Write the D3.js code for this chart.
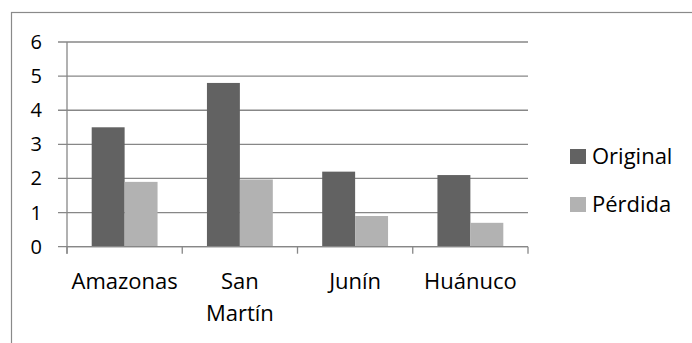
<!DOCTYPE html>
<html>
<head>
<meta charset="utf-8">
<script src="https://cdn.jsdelivr.net/npm/d3@7"></script>
<style>
  html, body { margin: 0; padding: 0; background: #fff; }
  svg { display: block; }
  text { font-family: "Open Sans", sans-serif; fill: #000; }
</style>
</head>
<body>
<svg id="chart" width="692" height="343"></svg>
<script>
// Regions and their values
const regions = ["Amazonas", "San Martín", "Junín", "Huánuco"];
const regionLines = [["Amazonas"], ["San", "Martín"], ["Junín"], ["Huánuco"]];
const seriesNames = ["Original", "Pérdida"];
const originalValues = [3.5, 4.8, 2.2, 2.1];
const perdidaValues = [1.9, 1.97, 0.9, 0.7];
const yTicks = [0, 1, 2, 3, 4, 5, 6];

const colors = { "Original": "#626262", "Pérdida": "#b2b2b2" };
const gridColor = "#878787";

const rows = regions.map((r, i) => ({
  region: r,
  lines: regionLines[i],
  values: [
    { key: "Original", value: originalValues[i] },
    { key: "Pérdida", value: perdidaValues[i] }
  ]
}));

const svg = d3.select("#chart");

// chart frame (continues past the right and bottom edges)
svg.append("rect")
  .attr("x", 11.5).attr("y", 12.5)
  .attr("width", 720).attr("height", 400)
  .attr("fill", "none").attr("stroke", "#8a8a8a").attr("stroke-width", 1.2);

const plot = { left: 67, right: 528, top: 42, bottom: 246.7 };

const x0 = d3.scaleBand().domain(regions).range([plot.left, plot.right]).padding(0);
const x1 = d3.scaleBand().domain(seriesNames).range([0, x0.bandwidth()])
  .paddingInner(0).paddingOuter(0.75);
const y = d3.scaleLinear().domain([0, 6]).range([plot.bottom, plot.top]);

// horizontal gridlines, extending left as tick marks
svg.append("g").selectAll("line").data(yTicks).join("line")
  .attr("x1", plot.left - 9).attr("x2", plot.right)
  .attr("y1", d => y(d)).attr("y2", d => y(d))
  .attr("stroke", gridColor).attr("stroke-width", 1.3);

// y-axis labels
svg.append("g").selectAll("text").data(yTicks).join("text")
  .attr("x", 42).attr("y", d => y(d) + 7)
  .attr("text-anchor", "end")
  .attr("font-size", 20)
  .text(d => d);

// bars
const groups = svg.append("g").selectAll("g").data(rows).join("g")
  .attr("transform", d => `translate(${x0(d.region)},0)`);
groups.selectAll("rect").data(d => d.values).join("rect")
  .attr("x", d => x1(d.key))
  .attr("width", x1.bandwidth())
  .attr("y", d => y(d.value))
  .attr("height", d => y(0) - y(d.value))
  .attr("fill", d => colors[d.key]);

// axes lines
svg.append("line")
  .attr("x1", plot.left).attr("x2", plot.left)
  .attr("y1", plot.top).attr("y2", plot.bottom + 7)
  .attr("stroke", gridColor).attr("stroke-width", 1.3);
svg.append("line")
  .attr("x1", plot.left).attr("x2", plot.right)
  .attr("y1", plot.bottom).attr("y2", plot.bottom)
  .attr("stroke", gridColor).attr("stroke-width", 1.3);

// category separator ticks
const tickXs = regions.map(r => x0(r) + x0.bandwidth()).concat([plot.left]);
svg.append("g").selectAll("line").data(tickXs).join("line")
  .attr("x1", d => d).attr("x2", d => d)
  .attr("y1", plot.bottom).attr("y2", plot.bottom + 7)
  .attr("stroke", gridColor).attr("stroke-width", 1.3);

// category labels
const catLabels = svg.append("g").selectAll("text").data(rows).join("text")
  .attr("x", d => x0(d.region) + x0.bandwidth() / 2)
  .attr("y", 289)
  .attr("text-anchor", "middle")
  .attr("font-size", 22);
catLabels.selectAll("tspan").data(d => d.lines.map((t, i) => ({ t, i, cx: x0(d.region) + x0.bandwidth() / 2 })))
  .join("tspan")
  .attr("x", d => d.cx)
  .attr("dy", d => d.i === 0 ? 0 : 32)
  .text(d => d.t);

// legend
const legend = svg.append("g").selectAll("g").data(seriesNames).join("g")
  .attr("transform", (d, i) => `translate(570,${149 + i * 48})`);
legend.append("rect")
  .attr("width", 16).attr("height", 15)
  .attr("fill", d => colors[d]);
legend.append("text")
  .attr("x", 22).attr("y", 14.5)
  .attr("font-size", 22)
  .text(d => d);
</script>
</body>
</html>
